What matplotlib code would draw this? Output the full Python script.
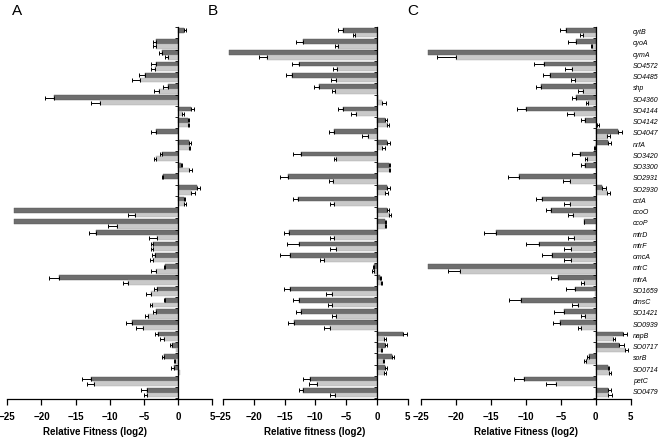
import numpy as np
import matplotlib
matplotlib.use("Agg")
from matplotlib import pyplot as plt

plt.rcParams['font.family'] = ['Liberation Sans', 'DejaVu Sans']

genes = ["cytB", "cyoA", "cymA", "SO4572", "SO4485", "shp", "SO4360", "SO4144",
         "SO4142", "SO4047", "nrfA", "SO3420", "SO3300", "SO2931", "SO2930", "cctA",
         "ccoO", "ccoP", "mtrD", "mtrF", "omcA", "mtrC", "mtrA", "SO1659", "dmsC",
         "SO1421", "SO0939", "napB", "SO0717", "sorB", "SO0714", "petC", "SO0479"]

# panel A
a_dark = [0.9, -3.3, -2.35, -3.3, -4.8, -1.55, -18.1, 1.85, 1.45, -3.3, 1.6, -2.35, 0.4,
          -2.2, 2.8, 0.85, -24, -24, -12, -3.75, -3.35, -1.85, -17.5, -3.1, -1.85, -3.2,
          -6.7, -2.9, -0.9, -2.05, -0.65, -12.8, -4.5]
a_dark_err = [0.2, 0.45, 0.45, 0.6, 1.0, 0.65, 1.4, 0.5, 0.15, 0.6, 0.25, 0.35, 0.1,
              0.15, 0.45, 0.15, 0, 0, 1.1, 0.2, 0.5, 0.25, 1.4, 0.45, 0.25, 0.45,
              0.95, 0.5, 0.3, 0.35, 0.45, 1.2, 0.9]
a_light = [0.0, -3.3, -1.45, -3.35, -5.6, -2.8, -11.5, 0.5, 1.5, -0.05, 1.55, -3.2, 1.6,
           -0.05, 1.95, 0.9, -6.3, -8.9, -3.1, -3.75, -3.65, -3.3, -7.3, -4.0, -3.8, -4.35,
           -5.1, -2.05, -0.25, -0.5, 0.2, -12.3, -4.5]
a_light_err = [0, 0.35, 0.5, 0.6, 1.1, 0.75, 1.2, 0.4, 0.15, 0, 0.25, 0.35, 0.45,
               0, 0.5, 0.3, 1.0, 1.4, 1.1, 0.2, 0.4, 0.6, 0.8, 0.7, 0.25, 0.55,
               1.0, 0.55, 0, 0.15, 0, 1.0, 0.5]

# panel B
b_dark = [-5.5, -12.0, -24, -12.6, -13.8, -9.45, 0.15, -5.55, 1.35, -7.0, 1.7, -12.3, 2.0,
          -14.5, 1.7, -12.8, 1.7, 1.35, -14.2, -12.7, -14.05, -0.4, 0.55, -14.05, -12.7,
          -12.4, -13.5, 4.3, 1.35, 2.45, 1.35, -10.8, -12.0]
b_dark_err = [0.9, 1.2, 0, 1.2, 0.95, 0.7, 0, 0.75, 0.25, 0.8, 0.45, 1.3, 0.15,
              1.2, 0.35, 0.9, 0.3, 0.2, 0.9, 1.9, 1.65, 0.3, 0.15, 1.05, 0.9,
              0.7, 1.0, 0.55, 0.25, 0.3, 0.3, 1.25, 0.7]
b_light = [-3.6, -6.4, -17.8, -6.5, -6.65, -6.75, 0.8, -3.35, 1.6, -1.5, 0.9, -6.65, 1.9,
           -7.15, 1.35, -7.0, 1.9, 1.25, -6.9, -6.65, -8.55, -0.55, 0.65, -7.3, -7.3,
           -6.65, -7.55, 1.2, 0.65, 0.95, 1.2, -9.7, -6.75]
b_light_err = [0.3, 0.35, 1.4, 0.7, 0.8, 0.55, 0.6, 0.85, 0.3, 0.9, 0.45, 0.35, 0.15,
               0.7, 0.4, 0.7, 0.4, 0.2, 0.7, 1.05, 0.65, 0.25, 0.1, 0.9, 0.7,
               0.65, 1.1, 0.2, 0.2, 0.2, 0.3, 1.4, 0.85]

# panel C
c_dark = [-4.2, -2.85, -24, -7.45, -6.5, -7.9, -2.8, -9.95, -1.6, 3.2, 1.7, -2.3, -1.6,
          -11.05, 0.9, -7.65, -6.35, -1.65, -14.25, -8.15, -6.2, -24, -5.4, -3.0, -10.75,
          -4.55, -5.05, 3.85, 3.35, -1.0, 1.75, -10.3, 1.75]
c_dark_err = [0.95, 1.05, 0, 1.45, 1.05, 0.7, 0.55, 1.35, 0.45, 0.5, 0.45, 1.1, 0.45,
              1.55, 0.5, 0.85, 0.75, 0.1, 1.75, 1.8, 1.5, 0, 0.95, 1.3, 1.6,
              1.45, 1.05, 0.55, 0.65, 0.2, 0.15, 1.45, 0.45]
c_light = [-1.8, -0.55, -20, -3.4, -3.0, -1.8, -1.1, -3.15, 0.25, 1.55, -0.15, -1.2, 0.1,
           -3.75, 1.6, -3.75, -3.2, 0.05, -3.1, -3.6, -3.6, -19.4, -1.65, -0.1, -2.55,
           -1.6, -2.05, 2.5, 4.15, -1.35, 1.85, -5.65, 1.75]
c_light_err = [0.4, 0.15, 2.7, 0.95, 0.5, 0.75, 0.35, 0.95, 0.15, 0.45, 0.1, 0.35, 0,
               0.95, 0.5, 0.85, 0.7, 0, 0.9, 0.95, 0.95, 1.7, 0.4, 0, 0.85,
               0.45, 0.55, 0.3, 0.4, 0.3, 0.35, 1.45, 0.55]

xlabels = ["Relative Fitness (log2)", "Relative fitness (log2)", "Relative Fitness (log2)"]
letters = ["A", "B", "C"]

dark_col = "#6e6e6e"
light_col = "#c9c9c9"


def one_sided(vals, errs):
    vals = np.array(vals)
    errs = np.array(errs)
    lo = np.where(vals < 0, errs, 0)
    hi = np.where(vals >= 0, errs, 0)
    return lo, hi


def panel(ax, dark, dark_err, light, light_err, xlab, labx):
    y = np.arange(len(genes))
    h = 0.42
    ax.barh(y - h/2, dark, height=h, color=dark_col, edgecolor="#555555", linewidth=0.3)
    ax.barh(y + h/2, light, height=h, color=light_col, edgecolor="#aaaaaa", linewidth=0.3)
    for vals, errs, yy in [(dark, dark_err, y - h/2), (light, light_err, y + h/2)]:
        lo, hi = one_sided(vals, errs)
        m = np.array(errs) > 0
        ax.errorbar(np.array(vals)[m], yy[m], xerr=[lo[m], hi[m]], fmt="none",
                    ecolor="black", elinewidth=0.7, capsize=1.7, capthick=0.7)
    ax.set_xlim(-25, 5)
    ax.set_ylim(32.56, -0.47)
    ax.spines["top"].set_visible(False)
    ax.spines["right"].set_visible(False)
    ax.spines["left"].set_position(("data", 0))
    ax.spines["left"].set_linewidth(0.9)
    ax.spines["bottom"].set_linewidth(0.9)
    ax.set_yticks(np.arange(-0.5, 33, 1))
    ax.set_yticklabels([])
    ax.tick_params(axis="y", length=2, width=0.6)
    ax.set_xticks([-25, -20, -15, -10, -5, 0, 5])
    ax.tick_params(axis="x", length=4, width=0.9, pad=5, labelsize=7)
    for t in ax.get_xticklabels():
        t.set_fontweight("bold")
    ax.set_xlabel(xlab, fontsize=7, fontweight="bold")
    ax.xaxis.set_label_coords(labx, -0.075)


fig = plt.figure(figsize=(6.66, 4.38), dpi=100)
W, H = 666, 438
boxes = [(7.3, 212.3), (223, 407.7), (421, 630.7)]
labxs = [0.428, 0.498, 0.50]
data = [(a_dark, a_dark_err, a_light, a_light_err),
        (b_dark, b_dark_err, b_light, b_light_err),
        (c_dark, c_dark_err, c_light, c_light_err)]
letter_x = [12, 208, 407]

for i in range(3):
    x0, x1 = boxes[i]
    ax = fig.add_axes([x0 / W, (H - 399) / H, (x1 - x0) / W, (399 - 27) / H])
    panel(ax, *data[i], xlabels[i], labxs[i])
    fig.text(letter_x[i] / W, 1 - 4 / H, letters[i], fontsize=11, va="top", ha="left")
    if i == 2:
        for j, g in enumerate(genes):
            ax.text(1.011, j, g, transform=ax.get_yaxis_transform(), fontsize=5,
                    style="italic", va="center", ha="left")

fig.savefig("out.png", dpi=100)
